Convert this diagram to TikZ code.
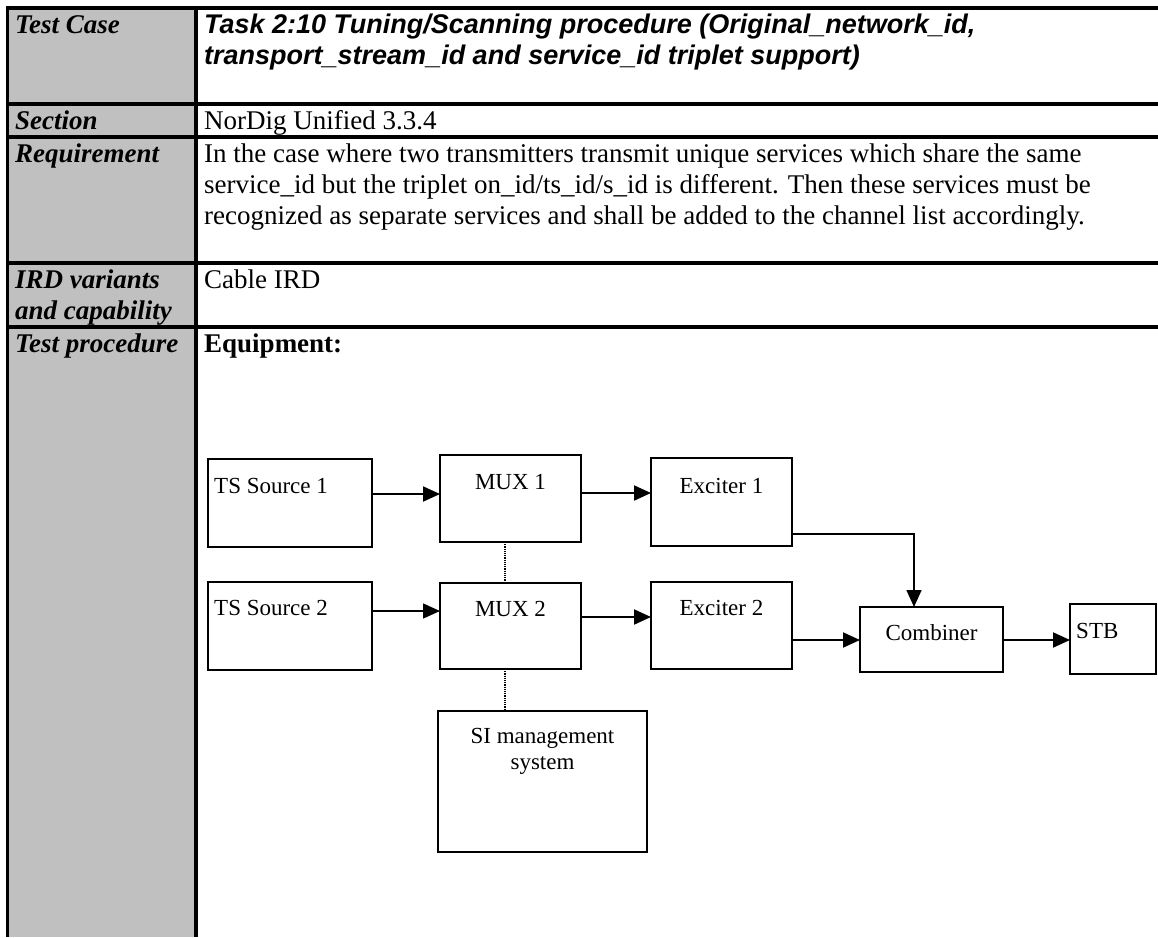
\documentclass[tikz,border=0pt]{standalone}
\usepackage{fontspec}
\setmainfont{Liberation Serif}
\newfontfamily\arialfont{Liberation Sans}
\usetikzlibrary{arrows.meta}
\definecolor{cellgrey}{HTML}{C0C0C0}
\begin{document}
\begin{tikzpicture}[x=1pt,y=-1pt,
  tbl/.style={line width=3.2pt},
  box/.style={draw, line width=1.8pt, inner sep=0pt, outer sep=0pt},
  arr/.style={line width=2pt, -{Triangle[length=17pt,width=15pt]}},
  thinarr/.style={arr, line width=1.4pt},
  dots/.style={line width=1.2pt, densely dotted},
  lt/.style={anchor=base west, inner sep=0pt, font=\fontsize{27}{31}\selectfont\bfseries\itshape},
  rt/.style={anchor=base west, inner sep=0pt, font=\fontsize{27}{31}\selectfont},
  tt/.style={anchor=base west, inner sep=0pt, font=\arialfont\fontsize{27}{31}\selectfont\bfseries\itshape},
  dl/.style={anchor=base, inner sep=0pt, font=\fontsize{23}{26.5}\selectfont},
  dlw/.style={anchor=base west, inner sep=0pt, font=\fontsize{23}{26.5}\selectfont},
]
\useasboundingbox (0,0) rectangle (1158,937);
\fill[white] (0,0) rectangle (1158,937);
% table
\fill[cellgrey] (7.5,8) rectangle (196,937);
\foreach \yy in {8,104,137,263,327} \draw[tbl] (6,\yy) -- (1158,\yy);
\draw[tbl] (7.5,6.4) -- (7.5,937);
\draw[tbl] (196,6.4) -- (196,937);
% left column labels
\node[lt] (lTC) at (15,33) {Test Case};
\node[lt] (lSec) at (15,129) {Section};
\node[lt] (lReq) at (15,162) {Requirement};
\node[lt] (lIRDa) at (15,288) {IRD variants};
\node[lt] (lIRDb) at (15,319) {and capability};
\node[lt] (lTP) at (15,352) {Test procedure};
% right column texts
\node[tt] (t1) at (204,33) {Task 2:10 Tuning/Scanning procedure (Original\_network\_id,};
\node[tt] (t2) at (204,64) {transport\_stream\_id and service\_id triplet support)};
\node[rt] (sec) at (204,129) {NorDig Unified 3.3.4};
\node[rt] (r1) at (204,162) {In the case where two transmitters transmit unique services which share the same};
\node[rt] (r2) at (204,193) {service\_id but the triplet on\_id/ts\_id/s\_id is different. Then these services must be};
\node[rt] (r3) at (204,224) {recognized as separate services and shall be added to the channel list accordingly.};
\node[rt] (ird) at (204,288) {Cable IRD};
\node[rt, font=\fontsize{27}{31}\selectfont\bfseries] (eq) at (204,352) {Equipment:};
% boxes
\node[box, minimum width=164pt, minimum height=88pt] (ts1) at (290,503) {};
\node[box, minimum width=141pt, minimum height=87pt] (mux1) at (510.5,498.5) {};
\node[box, minimum width=141pt, minimum height=88pt] (exc1) at (721.5,502) {};
\node[box, minimum width=164pt, minimum height=88pt] (ts2) at (290,626) {};
\node[box, minimum width=141pt, minimum height=86pt] (mux2) at (510.5,626) {};
\node[box, minimum width=141pt, minimum height=87pt] (exc2) at (721.5,625.5) {};
\node[box, minimum width=143pt, minimum height=65pt] (comb) at (931.5,639.5) {};
\node[box, minimum width=86pt, minimum height=70pt] (stb) at (1113,639) {};
\node[box, minimum width=209pt, minimum height=141pt] (si) at (542.5,781.5) {};
% box labels
\node[dlw] (ts1t) at (214,493) {TS Source 1};
\node[dl] (mux1t) at (510.5,489) {MUX 1};
\node[dl] (exc1t) at (721.5,493) {Exciter 1};
\node[dlw] (ts2t) at (214,615) {TS Source 2};
\node[dl] (mux2t) at (510.5,616) {MUX 2};
\node[dl] (exc2t) at (721.5,615) {Exciter 2};
\node[dl] (combt) at (931.5,640) {Combiner};
\node[dlw] (stbt) at (1076,638) {STB};
\node[dl] (sit1) at (542.5,743) {SI management};
\node[dl] (sit2) at (542.5,769.5) {system};
% connectors
\coordinate (a1) at ([yshift=-35pt]ts1.north east);
\draw[arr] (a1) -- (a1 -| mux1.west);
\coordinate (a2) at ([yshift=-29pt]ts2.north east);
\draw[thinarr] (a2) -- (a2 -| mux2.west);
\coordinate (a3) at ([yshift=-38pt]mux1.north east);
\draw[arr] (a3) -- (a3 -| exc1.west);
\coordinate (a4) at ([yshift=-34pt]mux2.north east);
\draw[arr] (a4) -- (a4 -| exc2.west);
\coordinate (a5) at ([yshift=-76pt]exc1.north east);
\coordinate (c5) at ([xshift=-17.5pt]comb.north);
\draw[arr, line width=1.7pt] (a5) -| (c5);
\coordinate (a6) at ([yshift=-58pt]exc2.north east);
\draw[arr] (a6) -- (a6 -| comb.west);
\coordinate (a7) at ([yshift=-33pt]comb.north east);
\draw[arr] (a7) -- (a7 -| stb.west);
\coordinate (d1) at ([xshift=-5.5pt]mux1.south);
\draw[dots] (d1) -- (d1 |- mux2.north);
\coordinate (d2) at ([xshift=-5.5pt]mux2.south);
\draw[dots] (d2) -- (d2 |- si.north);
\end{tikzpicture}
\end{document}
